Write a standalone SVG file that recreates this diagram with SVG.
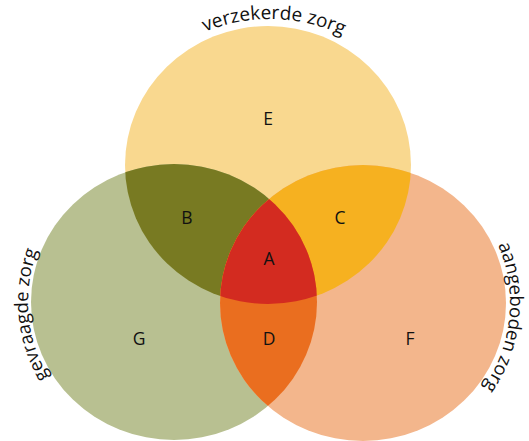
<svg xmlns="http://www.w3.org/2000/svg" xmlns:xlink="http://www.w3.org/1999/xlink" width="529" height="441" viewBox="0 0 529 441">
<style>
.lbl{font-family:"Open Sans","Noto Sans","DejaVu Sans",sans-serif;font-size:17.5px;fill:#111;text-anchor:middle}
.arc{font-family:"Open Sans","Noto Sans","DejaVu Sans",sans-serif;font-size:18.5px;fill:#111;text-anchor:middle}
</style>
<defs>
<ellipse id="cy" cx="268" cy="165" rx="143" ry="139"/>
<ellipse id="cg" cx="174" cy="302" rx="143" ry="138"/>
<ellipse id="co" cx="363" cy="303" rx="143" ry="138"/>
<clipPath id="clipY"><use xlink:href="#cy"/></clipPath>
<clipPath id="clipG"><use xlink:href="#cg"/></clipPath>
<clipPath id="clipO"><use xlink:href="#co"/></clipPath>
<path id="pTop" d="M100,189 A170,170 0 0 1 440,189"/>
<path id="pLeft" d="M174,448 A146,146 0 0 1 174,156"/>
<path id="pRight" d="M363,156 A147,147 0 0 1 363,450"/>
</defs>
<rect width="529" height="441" fill="#fff"/>
<g id="circles">
<use id="yellow" xlink:href="#cy" fill="#F9D88F"/>
<use id="green" xlink:href="#cg" fill="#B8C091"/>
<use id="orange" xlink:href="#co" fill="#F3B68C"/>
</g>
<g id="regions">
<use id="regionB" xlink:href="#cg" fill="#787A22" clip-path="url(#clipY)"/>
<use id="regionC" xlink:href="#co" fill="#F6B120" clip-path="url(#clipY)"/>
<use id="regionD" xlink:href="#co" fill="#EA6E1F" clip-path="url(#clipG)"/>
<g clip-path="url(#clipG)"><use id="regionA" xlink:href="#co" fill="#D32B20" clip-path="url(#clipY)"/></g>
</g>
<g id="letters">
<text class="lbl" x="268" y="125">E</text>
<text class="lbl" x="187" y="224">B</text>
<text class="lbl" x="340" y="224">C</text>
<text class="lbl" x="269" y="265">A</text>
<text class="lbl" x="139" y="345">G</text>
<text class="lbl" x="269" y="345">D</text>
<text class="lbl" x="410" y="345">F</text>
</g>
<g id="titles">
<text class="arc" style="font-size:19px"><textPath xlink:href="#pTop" startOffset="271">verzekerde zorg</textPath></text>
<text class="arc"><textPath xlink:href="#pLeft" startOffset="216">gevraagde zorg</textPath></text>
<text class="arc"><textPath xlink:href="#pRight" startOffset="246">aangeboden zorg</textPath></text>
</g>
</svg>
